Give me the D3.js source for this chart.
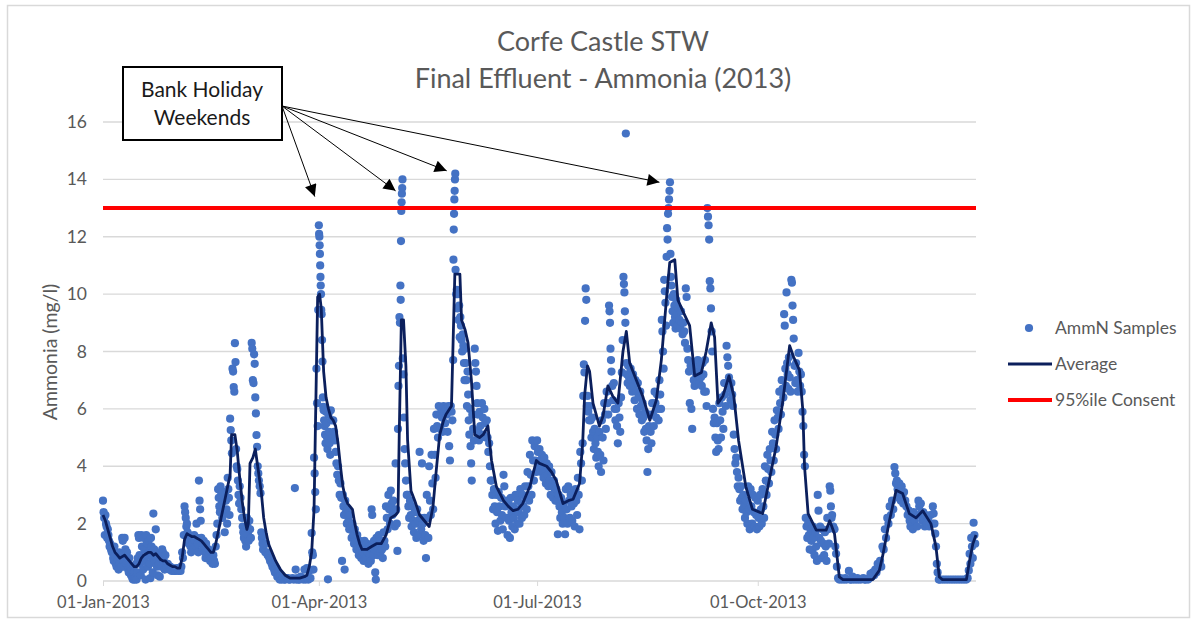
<!DOCTYPE html>
<html>
<head>
<meta charset="utf-8">
<script src="https://cdn.jsdelivr.net/npm/d3@7"></script>
<style>
    body { margin: 0; background: #ffffff; }
    svg { display: block; font-family: Lato, "Open Sans", sans-serif; }
</style>
</head>
<body>
<script>

/*
    Chart data. Samples are grouped per day of 2013 (day 0 = 01-Jan),
    each entry is [day, sample values...]. The average is [day, value].
*/
var titleLines = ["Corfe Castle STW", "Final Effluent - Ammonia (2013)"];
var yTicks = [0, 2, 4, 6, 8, 10, 12, 14, 16];
var xTickDates = ["2013-01-01", "2013-04-01", "2013-07-01", "2013-10-01"];
var consentLimit = 13;
var legendLabels = ["AmmN Samples", "Average", "95%ile Consent"];
var noteLines = ["Bank Holiday", "Weekends"];
var holidayArrows = [[88.3, 13.4], [122, 13.6], [143.3, 14.3], [232, 13.9]];

var samples = [
    [0, 2.8, 2.4, 2.2, 1.6], [1, 2.3, 2.0, 1.9, 1.5], [2, 1.8, 1.6, 1.4, 1.2], [3, 1.3, 1.1, 1.0],
    [4, 1.0, 0.8, 0.7, 1.2], [5, 0.9, 0.6, 0.5], [6, 0.8, 0.5, 0.4, 1.0], [7, 0.6, 0.9, 0.5],
    [8, 1.5, 1.4, 0.7, 0.5], [9, 1.5, 1.1, 0.6], [10, 1.0, 0.7, 0.4, 0.3], [11, 0.8, 0.5, 0.2],
    [12, 0.4, 0.1, 0.05, 0.5], [13, 0.3, 0.05, 0.1, 0.6], [14, 0.05, 0.3, 0.8, 1.6], [15, 1.5, 0.9, 0.6, 0.2],
    [16, 1.6, 1.2, 0.8, 0.4], [17, 1.5, 1.1, 0.7, 0.05], [18, 1.6, 1.3, 0.9, 0.5], [19, 1.4, 1.0, 0.6, 0.1],
    [20, 1.5, 1.2, 0.8, 0.3], [21, 2.35, 1.1, 0.7], [22, 1.8, 1.0, 0.5, 0.2], [23, 0.9, 0.6, 0.15],
    [24, 0.8, 0.5, 1.1], [25, 1.0, 0.7, 0.4], [26, 0.9, 0.6, 0.45], [27, 0.6, 0.5, 0.4],
    [28, 0.5, 0.4, 0.35], [29, 0.45, 0.4, 0.35], [30, 0.4, 0.35, 0.45], [31, 0.4, 0.35],
    [32, 0.45, 0.35, 0.5], [33, 1.0, 0.8, 1.6], [34, 2.6, 2.4, 2.2, 1.9], [35, 2.0, 1.7, 1.5, 1.3],
    [36, 1.6, 1.4, 1.2, 1.0], [37, 1.5, 1.3, 1.1], [38, 1.6, 1.4, 1.2], [39, 2.0, 1.5, 1.3, 1.0],
    [40, 3.5, 2.8, 2.5, 2.1], [41, 1.5, 1.3, 1.1], [42, 1.4, 1.2, 1.0, 0.8], [43, 1.3, 1.0, 0.8],
    [44, 1.1, 0.9, 0.7], [45, 1.0, 0.8, 0.6], [46, 0.9, 0.7, 0.6], [47, 1.2, 1.6, 2.0],
    [48, 3.2, 2.9, 2.6, 2.4], [49, 3.3, 3.0, 2.7, 2.2], [50, 3.1, 2.8, 2.4, 1.7], [51, 3.1, 2.8, 2.5, 2.0],
    [52, 3.6, 3.2, 2.9, 2.3], [53, 5.66, 5.26, 4.9, 4.45], [54, 7.4, 7.3, 6.76, 6.6], [55, 8.29, 7.63, 4.6, 4.0],
    [56, 3.9, 3.5, 3.0, 2.7], [57, 3.3, 2.9, 2.5], [58, 2.2, 1.9, 1.7, 1.5], [59, 1.6, 1.4, 1.2],
    [60, 2.2, 1.9, 1.6, 1.4], [61, 2.1, 1.8, 1.5], [62, 8.3, 8.1, 7.0, 6.9], [63, 7.9, 7.57, 6.4, 5.84],
    [64, 5.09, 4.68, 4.0, 3.75], [65, 3.5, 3.3, 3.06], [66, 1.7, 1.5, 1.3, 1.1], [67, 1.6, 1.3, 1.0],
    [68, 1.3, 1.0, 0.9], [69, 0.9, 0.8, 0.7], [70, 0.8, 0.6, 0.5], [71, 0.6, 0.4, 0.3],
    [72, 0.4, 0.3, 0.15], [73, 0.3, 0.15, 0.05], [74, 0.15, 0.05], [75, 0.1, 0.05],
    [76, 0.05, 0.1], [77, 0.1, 0.05], [78, 0.05], [79, 0.1, 0.05],
    [80, 3.24, 0.4, 0.05], [81, 0.1, 0.05], [82, 0.05, 0.15], [83, 0.1, 0.05],
    [84, 0.4, 0.05], [85, 0.45, 0.1, 0.05], [86, 0.35, 0.1], [87, 1.67, 1.0, 0.9, 0.4],
    [88, 4.3, 3.75, 3.1, 2.5], [89, 7.4, 6.2, 5.4, 9.45], [90, 12.4, 12.1, 12.0, 11.7, 11.4, 11.0, 10.6, 10.3, 10.0],
    [91, 9.45, 9.3, 8.4, 7.65, 6.4, 6.07], [92, 5.95, 5.6, 5.4, 5.1, 4.8], [93, 5.9, 5.5, 5.0, 4.6, 0.06],
    [94, 5.8, 5.2, 4.8, 4.4], [95, 5.95, 5.6, 5.0], [96, 5.6, 5.2, 4.9], [97, 4.5, 4.1, 3.7],
    [98, 4.0, 3.5, 3.0], [99, 3.4, 2.9, 0.7], [100, 3.0, 2.6, 2.3, 0.4], [101, 2.8, 2.4, 2.0],
    [102, 2.5, 2.1, 1.8], [103, 2.3, 1.9, 1.5], [104, 2.0, 1.6, 1.3], [105, 1.8, 1.4, 1.1],
    [106, 1.6, 1.2, 0.9], [107, 1.4, 1.1, 0.8], [108, 1.3, 1.0, 0.7], [109, 1.4, 1.1, 0.8],
    [110, 1.3, 1.0, 0.6], [111, 1.2, 0.9, 0.7], [112, 2.5, 2.3, 1.3, 0.9], [113, 1.4, 1.1, 0.3, 0.05],
    [114, 1.5, 1.2, 0.9], [115, 1.6, 1.3, 1.0], [116, 1.4, 1.1, 0.8], [117, 1.7, 1.4, 1.2],
    [118, 2.6, 2.2, 1.8], [119, 3.0, 2.5, 2.0], [120, 3.15, 2.7, 2.3], [121, 2.8, 2.4, 1.9],
    [122, 4.1, 2.5, 2.0, 1.05], [123, 5.3, 6.8, 7.5, 9.2, 9.0], [124, 10.3, 9.8, 11.85, 12.9, 13.2, 13.5, 13.7, 14.0],
    [125, 7.76, 7.2, 5.7, 4.6], [126, 4.1, 3.5, 3.0], [127, 3.0, 2.6, 2.2], [128, 2.8, 2.3, 1.9],
    [129, 2.6, 2.1, 1.7], [130, 2.4, 2.0, 1.5], [131, 2.5, 2.1, 1.6], [132, 4.5, 2.2, 1.8],
    [133, 4.1, 2.0, 1.4], [134, 2.2, 1.6, 0.8], [135, 3.0, 2.2, 1.5], [136, 4.0, 2.8, 2.3],
    [137, 4.4, 3.4, 2.5], [138, 5.3, 4.4, 3.6], [139, 5.8, 5.4, 5.0], [140, 6.1, 5.8, 5.3],
    [141, 6.0, 5.7, 5.2], [142, 6.1, 5.9, 5.5], [143, 6.0, 5.8, 5.2], [144, 6.1, 4.7, 4.2],
    [145, 6.1, 5.9, 5.6], [146, 7.7, 11.2, 12.25, 12.8, 13.3, 13.6, 14.0, 14.2], [147, 10.85, 10.0, 10.15, 9.5],
    [148, 10.0, 9.1, 9.6, 8.5], [149, 9.2, 8.9, 8.4, 8.0], [150, 8.6, 8.2, 7.6, 7.0], [151, 8.1, 7.6, 7.0, 6.1],
    [152, 7.3, 6.5, 5.6, 5.1], [153, 6.0, 4.7, 4.1, 3.5], [154, 5.8, 5.3, 4.9], [155, 8.1, 7.6, 7.3, 6.8],
    [156, 6.2, 5.8, 5.2, 4.9], [157, 5.9, 5.4, 5.0], [158, 6.2, 5.7, 5.1], [159, 6.0, 5.5, 5.0],
    [160, 5.6, 5.0, 4.5], [161, 4.8, 4.0, 3.5], [162, 3.5, 3.0, 2.5], [163, 3.2, 2.6, 2.0],
    [164, 3.0, 2.4, 1.75], [165, 3.1, 2.6, 2.1], [166, 2.9, 2.3, 1.8], [167, 3.7, 3.3, 2.6],
    [168, 2.8, 2.2, 1.6], [169, 2.7, 2.1, 1.5], [170, 2.9, 2.4, 1.9], [171, 2.6, 2.2, 1.8],
    [172, 3.0, 2.5, 2.0], [173, 2.8, 2.4, 2.0], [174, 3.2, 2.7, 2.2], [175, 3.0, 2.6, 2.3],
    [176, 3.3, 2.9, 2.5], [177, 3.8, 3.3, 2.8], [178, 4.4, 3.7, 3.0], [179, 4.9, 4.2, 3.5],
    [180, 4.7, 4.2, 3.8], [181, 4.9, 4.5, 4.0], [182, 4.6, 4.2, 3.8], [183, 4.4, 4.0, 3.6],
    [184, 4.3, 3.9, 3.4], [185, 4.1, 3.7, 3.3], [186, 4.0, 3.5, 3.0], [187, 3.8, 3.3, 2.9],
    [188, 3.5, 3.1, 2.8], [189, 3.2, 2.8, 1.63], [190, 3.0, 2.6, 2.2], [191, 2.9, 2.4, 2.0],
    [192, 2.7, 2.2, 1.63], [193, 3.2, 2.5, 2.0], [194, 3.3, 2.8, 2.2], [195, 3.0, 2.6, 2.1],
    [196, 3.1, 2.7, 1.9], [197, 3.2, 2.8, 2.3], [198, 3.6, 3.0, 1.8], [199, 4.5, 4.1, 3.5],
    [200, 4.8, 6.45, 7.55, 7.27], [201, 9.07, 10.2, 9.8, 6.1], [202, 6.45, 5.9, 5.6], [203, 6.1, 5.6, 5.0],
    [204, 5.7, 5.2, 4.6], [205, 5.3, 4.8, 4.3], [206, 5.0, 4.5, 4.0], [207, 5.2, 4.4, 3.8],
    [208, 5.6, 5.0, 4.2], [209, 6.2, 5.8, 5.3], [210, 6.6, 6.2, 5.8], [211, 9.6, 9.4, 9.0, 8.1, 7.7],
    [212, 7.3, 6.8, 6.3], [213, 6.9, 6.0, 5.6], [214, 6.0, 5.4, 4.8], [215, 6.2, 5.7, 5.2],
    [216, 6.4, 7.27, 8.4], [217, 10.6, 10.35, 10.06, 9.4, 9.0], [218, 15.6, 7.6, 7.2, 6.9], [219, 7.5, 7.1, 6.8],
    [220, 7.4, 7.0, 6.6], [221, 7.2, 6.8, 6.3], [222, 7.0, 6.6, 6.0], [223, 6.9, 6.4, 5.8],
    [224, 6.6, 6.1, 5.6], [225, 6.2, 5.7, 5.2], [226, 5.9, 5.3, 4.9], [227, 3.8, 4.6, 5.4],
    [228, 5.8, 5.2, 4.8], [229, 6.2, 5.8, 5.4], [230, 6.6, 6.2, 5.7], [231, 6.5, 6.0, 5.6],
    [232, 7.0, 6.5, 6.0], [233, 9.1, 8.7, 8.0, 7.4], [234, 10.5, 10.1, 9.7, 8.9], [235, 11.3, 12.3, 11.9, 12.8, 13.0],
    [236, 13.3, 13.6, 13.9, 11.4, 10.6], [237, 10.3, 9.9, 9.4, 9.0], [238, 10.0, 9.6, 9.2, 8.8], [239, 9.8, 9.3, 8.9],
    [240, 9.5, 9.1, 8.8], [241, 9.4, 9.0, 8.6], [242, 9.0, 8.7, 8.3], [243, 10.2, 9.9, 8.1],
    [244, 7.7, 7.3, 6.2], [245, 7.5, 6.0, 5.3], [246, 7.4, 7.0, 6.8], [247, 7.6, 7.2, 6.9],
    [248, 7.7, 7.3, 6.9], [249, 7.5, 7.1, 6.8], [250, 7.6, 7.2, 6.6], [251, 7.7, 6.6, 6.1],
    [252, 13.0, 12.7, 12.4, 11.9], [253, 10.45, 10.2, 9.5, 8.7], [254, 8.0, 6.0, 5.5], [255, 5.7, 5.0, 4.5],
    [256, 5.5, 4.9, 4.6], [257, 6.2, 5.6, 5.0], [258, 6.4, 5.9, 5.3], [259, 6.9, 6.5, 6.1],
    [260, 8.2, 7.8, 7.5], [261, 7.1, 6.7, 6.3], [262, 6.9, 6.5, 6.1], [263, 5.1, 4.6, 4.1],
    [264, 4.3, 3.8, 3.3], [265, 3.6, 3.2, 2.8], [266, 3.3, 2.9, 2.5], [267, 3.0, 2.6, 2.2],
    [268, 2.8, 2.4, 2.0], [269, 3.3, 2.5, 1.8], [270, 3.2, 2.6, 2.0], [271, 3.0, 2.4, 1.9],
    [272, 2.9, 2.3, 1.8], [273, 2.8, 2.2, 1.9], [274, 3.0, 2.5, 2.0], [275, 3.2, 2.6, 2.2],
    [276, 4.0, 3.5, 3.0], [277, 4.4, 3.9, 3.4], [278, 4.6, 4.2, 3.8], [279, 5.2, 4.8, 4.2],
    [280, 5.6, 5.1, 4.6], [281, 5.95, 5.7, 5.3], [282, 6.6, 6.2, 5.8], [283, 7.0, 6.7, 6.4],
    [284, 9.3, 8.9, 7.4, 6.8], [285, 10.06, 7.6, 7.2, 6.7], [286, 7.8, 7.1, 6.6], [287, 10.5, 10.4, 9.6, 9.1],
    [288, 8.45, 7.5, 6.9], [289, 7.6, 7.0, 6.6], [290, 7.95, 7.3, 6.8], [291, 7.2, 6.6, 5.9],
    [292, 5.4, 4.4, 4.0], [293, 2.2, 1.9, 1.5], [294, 2.0, 1.6, 1.1], [295, 1.8, 1.4, 1.07],
    [296, 1.9, 1.5, 0.9], [297, 1.7, 1.2, 0.7], [298, 3.0, 2.45, 1.5], [299, 1.9, 1.4, 0.8],
    [300, 1.8, 1.3, 0.9], [301, 1.7, 1.2, 0.7], [302, 2.2, 1.8, 1.3], [303, 3.3, 3.15, 2.6, 2.2],
    [304, 2.3, 1.9], [305, 1.8, 1.2, 0.95], [306, 0.5, 0.1], [307, 0.05, 0.1],
    [308, 0.05], [309, 0.05, 0.1], [310, 0.05], [311, 0.35, 0.05],
    [312, 0.05, 0.15], [313, 0.05], [314, 0.05, 0.1], [315, 0.05],
    [316, 0.05], [317, 0.1, 0.05], [318, 0.05], [319, 0.05, 0.1],
    [320, 0.25, 0.15], [321, 0.3, 0.2], [322, 0.4, 0.3], [323, 0.6, 0.5],
    [324, 0.7, 0.5], [325, 1.2, 1.1], [326, 1.8, 1.5], [327, 2.2, 2.0],
    [328, 2.6, 2.3], [329, 2.8, 2.5], [330, 3.97, 3.75, 3.4], [331, 3.5, 3.2, 2.9],
    [332, 3.4, 3.1, 2.8], [333, 3.3, 3.0, 2.7], [334, 3.1, 2.8], [335, 2.6, 2.3],
    [336, 2.45, 2.1, 1.9], [337, 2.3, 2.0, 1.8], [338, 2.4, 2.1], [339, 2.3, 1.9],
    [340, 2.8, 2.6, 2.3], [341, 2.7, 2.4, 2.1], [342, 2.4, 2.1, 1.9], [343, 2.3, 2.0],
    [344, 2.2, 1.9], [345, 2.3, 2.0], [346, 2.6, 2.35, 2.0], [347, 1.65, 1.2, 0.6],
    [348, 0.3, 0.05], [349, 0.05], [350, 0.05], [351, 0.05], [352, 0.05], [353, 0.05],
    [354, 0.05], [355, 0.05], [356, 0.05], [357, 0.05], [358, 0.05], [359, 0.05],
    [360, 0.05, 0.1], [361, 0.37, 0.95, 0.6], [362, 1.5, 1.2, 0.8], [363, 2.03, 1.6, 1.3]
];

var average = [
    [0, 2.3], [1, 2.1], [2, 1.8], [3, 1.5], [4, 1.2], [5, 1.0], [6, 0.9], [7, 0.8], [8, 0.85], [9, 0.9],
    [10, 0.8], [11, 0.7], [12, 0.6], [13, 0.5], [14, 0.5], [15, 0.6], [16, 0.8], [17, 0.9], [18, 0.95],
    [19, 1.0], [20, 1.0], [21, 0.9], [22, 0.95], [23, 0.85], [24, 0.75], [25, 0.7], [26, 0.7], [27, 0.6],
    [28, 0.55], [29, 0.5], [30, 0.5], [31, 0.45], [32, 0.45], [33, 0.8], [34, 1.45], [35, 1.65], [36, 1.6],
    [37, 1.55], [38, 1.55], [39, 1.5], [40, 1.45], [41, 1.4], [42, 1.3], [43, 1.2], [44, 1.1], [45, 1.0],
    [46, 1.0], [47, 1.3], [48, 1.7], [49, 2.1], [50, 2.5], [51, 2.9], [52, 3.3], [53, 3.7], [53.6, 5.1],
    [55, 5.1], [56, 4.5], [57, 3.6], [58, 2.8], [59, 2.2], [60, 1.8], [60.6, 2.0], [61.3, 4.1], [62.5, 4.3],
    [63.5, 4.6], [64.5, 4.0], [66, 3.1], [67, 2.2], [68, 1.7], [69, 1.3], [70, 1.1], [71, 0.9], [72, 0.7],
    [73, 0.55], [74, 0.4], [75, 0.3], [76, 0.2], [77, 0.15], [78, 0.1], [80, 0.1], [82, 0.1], [84, 0.15],
    [85, 0.2], [86, 0.5], [87, 1.0], [88, 2.5], [88.5, 5.0], [89.5, 9.9], [90.3, 10.0], [91, 9.5], [92, 7.3],
    [93, 6.4], [94, 6.0], [95, 5.7], [96, 5.6], [97, 5.4], [98, 4.8], [99, 4.0], [100, 3.3], [101, 2.9],
    [102, 2.7], [103, 2.6], [104, 2.5], [105, 2.0], [106, 1.6], [107, 1.3], [108, 1.1], [110, 1.1],
    [112, 1.2], [114, 1.3], [116, 1.3], [118, 1.6], [120, 2.2], [122, 2.3], [123, 2.4], [123.5, 5.0],
    [124.4, 9.1], [125.3, 9.1], [126.3, 7.5], [127, 4.9], [128.4, 3.15], [130, 2.8], [132, 2.3], [134, 2.1],
    [136, 1.9], [137.6, 2.6], [139, 3.9], [140.4, 5.1], [142, 5.6], [143, 5.8], [145.3, 6.1], [146, 8.4],
    [146.7, 10.7], [148.8, 10.7], [149.5, 9.1], [151, 8.75], [152.2, 8.3], [153.6, 7.0], [155, 5.1],
    [157, 5.0], [158.5, 5.1], [160.5, 5.4], [162, 4.2], [164, 3.3], [167, 2.8], [169, 2.6], [171, 2.45],
    [173, 2.5], [175, 2.7], [178, 3.3], [180.7, 4.2], [182, 4.1], [185, 4.0], [187, 3.8], [189, 3.5],
    [191.8, 2.7], [194, 2.8], [196, 2.85], [198.7, 3.4], [200, 4.8], [200.8, 6.45], [202, 7.5], [202.9, 7.3],
    [204.3, 6.2], [207, 5.4], [208.5, 5.75], [210.5, 6.8], [212.5, 6.45], [214.7, 6.2], [216.8, 8.0],
    [218.2, 8.7], [219.6, 7.6], [222.4, 7.0], [225, 6.45], [228, 5.6], [230.7, 6.3], [232.8, 7.7], [235, 9.9],
    [236.3, 11.1], [238.4, 11.2], [239.7, 9.8], [241.8, 9.4], [244.6, 8.9], [246.7, 7.15], [249.5, 7.27],
    [251.5, 8.0], [253.6, 9.0], [255, 8.5], [256.4, 6.2], [258.5, 6.45], [261, 7.15], [263, 6.45], [265, 4.9],
    [268, 3.3], [270.8, 2.5], [273.7, 2.4], [275, 2.35], [278, 3.6], [280.7, 4.7], [283.5, 6.3], [286.3, 8.2],
    [288, 7.8], [290.4, 7.35], [291.8, 5.95], [292.5, 4.0], [294, 2.35], [297.4, 1.77], [301.5, 1.77],
    [303, 2.1], [305, 1.65], [307, 0.14], [308.5, 0.05], [321, 0.05], [323.7, 0.37], [325, 0.84],
    [327.9, 2.1], [330.7, 3.16], [333.4, 3.05], [336.2, 2.35], [339, 2.2], [341.8, 2.45], [345.2, 2.0],
    [347.3, 1.2], [348.7, 0.14], [350, 0.05], [360, 0.05], [361.3, 0.7], [362.7, 1.3], [364, 1.6]
];


/*
    Size of the page and the scales. Days are turned into dates
    so the time scale places them, ticks at the quarter starts.
*/
var w = 1197;
var h = 628;
var yearStart = new Date(2013, 0, 1);
var parseDate = d3.timeParse("%Y-%m-%d");
var fmtDate = d3.timeFormat("%d-%b-%Y");
var grey = "#595959";
var gridColour = "#d9d9d9";
var dotColour = "#4472C4";
var avgColour = "#0B1F5C";
var dotRadius = 4.1;

function dayToDate(day){
    return new Date(yearStart.getTime() + day * 86400000);
}

var xScale = d3.scaleTime()
    .domain([yearStart, new Date(2013, 11, 31)])
    .range([103, 976]);

var yScale = d3.scaleLinear()
    .domain([0, 16])
    .range([581, 122]);

var svg = d3.select("body")
    .append("svg")
    .attr("width", w)
    .attr("height", h);

svg.append("rect")
    .attr("x", 7.5)
    .attr("y", 5.5)
    .attr("width", 1182)
    .attr("height", 612)
    .attr("fill", "#ffffff")
    .attr("stroke", gridColour)
    .attr("stroke-width", 1.5);

svg.selectAll(".title")
    .data(titleLines)
    .enter()
    .append("text")
    .attr("class", "title")
    .attr("x", 603)
    .attr("y", function(d, i){
        return 51 + i * 37;
    })
    .attr("text-anchor", "middle")
    .attr("font-size", 27)
    .attr("fill", grey)
    .text(function(d){ return d; });


/*
    Gridlines and the axes
*/
svg.selectAll(".grid")
    .data(yTicks.slice(1))
    .enter()
    .append("line")
    .attr("class", "grid")
    .attr("x1", xScale.range()[0])
    .attr("x2", xScale.range()[1])
    .attr("y1", function(d){ return yScale(d); })
    .attr("y2", function(d){ return yScale(d); })
    .attr("stroke", gridColour)
    .attr("stroke-width", 1.3);

var yAxis = svg.append("g")
    .attr("transform", "translate(" + xScale.range()[0] + ",0)")
    .call(d3.axisLeft(yScale).tickValues(yTicks).tickSize(0).tickPadding(16));
yAxis.select(".domain").remove();
yAxis.selectAll("text")
    .attr("font-size", 17.5)
    .attr("font-family", "Lato")
    .attr("fill", grey);

var xAxis = svg.append("g")
    .attr("transform", "translate(0," + yScale(0) + ")")
    .call(d3.axisBottom(xScale)
        .tickValues(xTickDates.map(parseDate))
        .tickFormat(fmtDate)
        .tickSize(5)
        .tickPadding(10));
xAxis.select(".domain")
    .attr("stroke", gridColour)
    .attr("stroke-width", 1.3)
    .attr("d", "M" + xScale.range()[0] + ",0H" + xScale.range()[1]);
xAxis.selectAll("line").attr("stroke", gridColour);
xAxis.selectAll("text")
    .attr("font-size", 16.5)
    .attr("font-family", "Lato")
    .attr("fill", grey);

svg.append("text")
    .attr("transform", "translate(57,352) rotate(-90)")
    .attr("text-anchor", "middle")
    .attr("font-size", 19.5)
    .attr("fill", grey)
    .text("Ammonia (mg/l)");


/*
    Samples, one circle per sample, spread through the day they were taken
*/
var points = [];
samples.forEach(function(row){
    var vals = row.slice(1);
    vals.forEach(function(v, i){
        points.push({ day: row[0] + i / vals.length, value: v });
    });
});

svg.append("g")
    .selectAll("circle")
    .data(points)
    .enter()
    .append("circle")
    .attr("cx", function(d){ return xScale(dayToDate(d.day)); })
    .attr("cy", function(d){ return yScale(d.value); })
    .attr("r", dotRadius)
    .attr("fill", dotColour);

var avgLine = d3.line()
    .x(function(d){ return xScale(dayToDate(d[0])); })
    .y(function(d){ return yScale(d[1]); });

svg.append("path")
    .datum(average)
    .attr("d", avgLine)
    .attr("fill", "none")
    .attr("stroke", avgColour)
    .attr("stroke-width", 2.8)
    .attr("stroke-linejoin", "round");

svg.append("line")
    .attr("x1", xScale.range()[0])
    .attr("x2", xScale.range()[1])
    .attr("y1", yScale(consentLimit))
    .attr("y2", yScale(consentLimit))
    .attr("stroke", "#FF0000")
    .attr("stroke-width", 4);


/*
    Legend on the right
*/
var legend = svg.append("g")
    .attr("transform", "translate(1008,328)");

legendLabels.forEach(function(label, i){
    var row = legend.append("g")
        .attr("transform", "translate(0," + (i * 36) + ")");
    if(i == 0){
        row.append("circle")
            .attr("cx", 21)
            .attr("cy", 0)
            .attr("r", dotRadius)
            .attr("fill", dotColour);
    }else{
        row.append("line")
            .attr("x1", 0)
            .attr("x2", 44)
            .attr("stroke", i == 1 ? avgColour : "#FF0000")
            .attr("stroke-width", i == 1 ? 2.8 : 4);
    }
    row.append("text")
        .attr("x", 47)
        .attr("y", 6)
        .attr("font-size", 17.5)
        .attr("fill", grey)
        .text(label);
});


/*
    The bank holiday note with arrows pointing at the peaks
*/
svg.append("defs")
    .append("marker")
    .attr("id", "head")
    .attr("viewBox", "0 0 10 10")
    .attr("refX", 10)
    .attr("refY", 5)
    .attr("markerWidth", 15)
    .attr("markerHeight", 12)
    .attr("markerUnits", "userSpaceOnUse")
    .attr("orient", "auto")
    .append("path")
    .attr("d", "M0,0L10,5L0,10Z")
    .attr("fill", "#000000");

svg.selectAll(".arrow")
    .data(holidayArrows)
    .enter()
    .append("line")
    .attr("class", "arrow")
    .attr("x1", 282)
    .attr("y1", 106)
    .attr("x2", function(d){ return xScale(dayToDate(d[0])); })
    .attr("y2", function(d){ return yScale(d[1]); })
    .attr("stroke", "#000000")
    .attr("stroke-width", 1)
    .attr("marker-end", "url(#head)");

svg.append("rect")
    .attr("x", 123)
    .attr("y", 67)
    .attr("width", 159)
    .attr("height", 73)
    .attr("fill", "#ffffff")
    .attr("stroke", "#000000")
    .attr("stroke-width", 2);

svg.selectAll(".note")
    .data(noteLines)
    .enter()
    .append("text")
    .attr("class", "note")
    .attr("x", 202)
    .attr("y", function(d, i){
        return 97 + i * 28;
    })
    .attr("text-anchor", "middle")
    .attr("font-size", 21)
    .attr("fill", "#1a1a1a")
    .text(function(d){ return d; });

</script>
</body>
</html>
